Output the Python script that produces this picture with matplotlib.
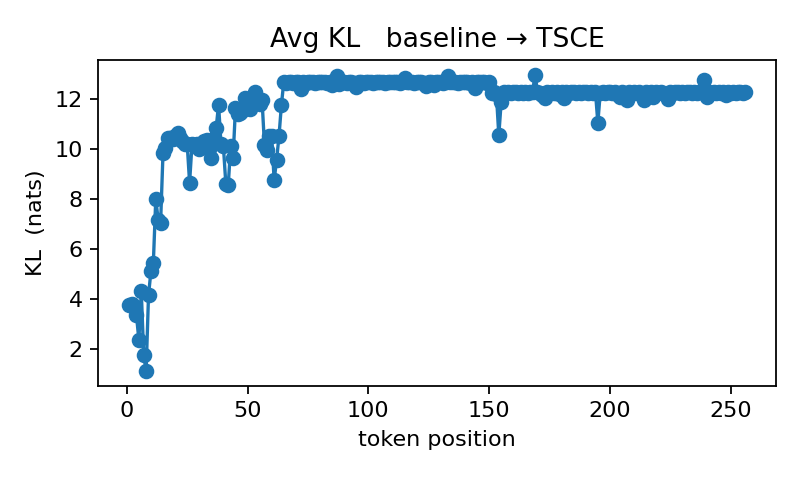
import matplotlib
matplotlib.use("Agg")
import matplotlib.pyplot as plt
import numpy as np

# avg KL per token position
kl_warmup = [3.75, 3.8, 3.7, 3.35, 2.35, 4.3, 1.75, 1.1, 4.15, 5.1,
             5.45, 8.0, 7.15, 7.05, 9.85, 10.05, 10.45, 10.45, 10.4, 10.5,
             10.65, 10.45, 10.3, 10.2, 10.2, 8.65, 10.2, 10.15, 10.2, 10.0,
             10.1, 10.3, 10.35, 10.0, 9.65, 10.4, 10.85, 11.77, 10.2, 10.1,
             8.6, 8.55, 10.1, 9.65, 11.65, 11.4, 11.45, 11.55, 12.05, 11.75,
             11.6, 11.95, 12.3, 12.0, 11.8, 11.95, 10.15, 9.95, 10.5, 10.5,
             8.75, 9.55, 10.5, 11.75]

kl_plateau_a = [12.7, 12.65, 12.7, 12.7, 12.65, 12.7, 12.7, 12.4, 12.7, 12.65,
                12.7, 12.7, 12.7, 12.65, 12.7, 12.7, 12.7, 12.7, 12.65, 12.7,
                12.55, 12.7, 12.93, 12.6, 12.7, 12.7, 12.65, 12.7, 12.7, 12.65,
                12.5, 12.7, 12.7, 12.65, 12.7, 12.7, 12.7, 12.65, 12.7, 12.7,
                12.7, 12.7, 12.65, 12.7, 12.7, 12.7, 12.7, 12.7, 12.65, 12.7,
                12.85, 12.7, 12.7, 12.7, 12.65, 12.7, 12.7, 12.7, 12.65, 12.52,
                12.7, 12.7, 12.55, 12.7, 12.7, 12.7, 12.65, 12.7, 12.93, 12.7,
                12.7, 12.7, 12.65, 12.7, 12.7, 12.7, 12.7, 12.65, 12.7, 12.45,
                12.7, 12.7, 12.7, 12.7, 12.65, 12.7]

kl_drop = [12.25, 12.3, 12.2, 10.55, 11.9]

kl_plateau_b = [12.3, 12.25, 12.3, 12.25, 12.3, 12.3, 12.25, 12.3, 12.25, 12.3,
                12.25, 12.3, 12.3, 12.97, 12.3, 12.25, 12.15, 12.05, 12.3, 12.25,
                12.3, 12.25, 12.3, 12.2, 12.3, 12.05, 12.3, 12.25, 12.3, 12.3,
                12.25, 12.3, 12.25, 12.3, 12.3, 12.25, 12.3, 12.25, 12.3, 11.05,
                12.25, 12.3, 12.25, 12.3, 12.3, 12.25, 12.3, 12.2, 12.1, 12.3,
                12.25, 11.95, 12.3, 12.25, 12.3, 12.25, 12.3, 12.2, 11.95, 12.3,
                12.25, 12.3, 12.1, 12.3, 12.25, 12.3, 12.25, 12.2, 12.0, 12.3,
                12.25, 12.3, 12.3, 12.25, 12.3, 12.25, 12.3, 12.3, 12.25, 12.3,
                12.25, 12.3, 12.3, 12.75, 12.1, 12.3, 12.25, 12.3, 12.25, 12.3,
                12.25, 12.3, 12.15, 12.3, 12.25, 12.3, 12.25, 12.3, 12.3, 12.25,
                12.28]

kl = kl_warmup + kl_plateau_a + kl_drop + kl_plateau_b
positions = np.arange(1, len(kl) + 1)

fig, ax = plt.subplots(figsize=(5, 3), dpi=160)
ax.plot(positions, kl, marker="o")
ax.set_title("Avg KL   baseline \u2192 TSCE")
ax.set_xlabel("token position")
ax.set_ylabel("KL  (nats)")
fig.subplots_adjust(left=0.123, right=0.97, top=0.875, bottom=0.196)
fig.savefig("out.png", dpi=160)
